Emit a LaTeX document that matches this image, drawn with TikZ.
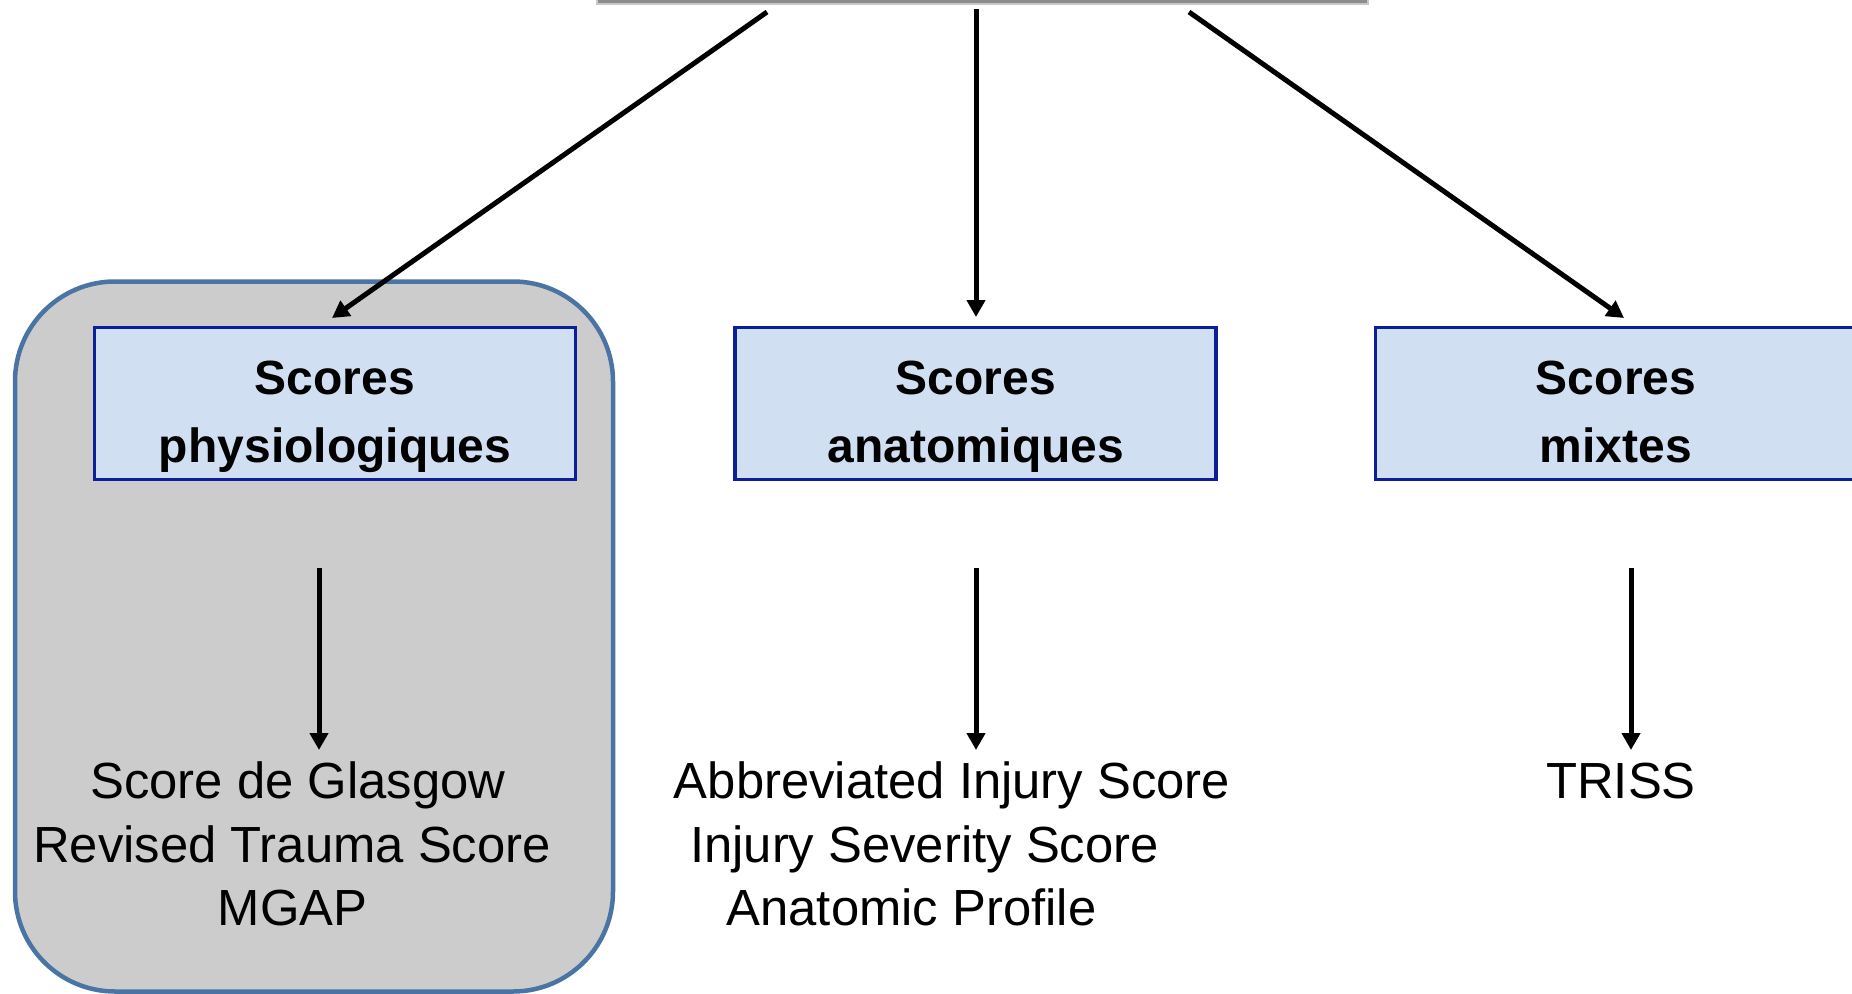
\documentclass[tikz,border=0pt]{standalone}
\usepackage{fontspec}
\setmainfont{Liberation Sans}
\usetikzlibrary{arrows.meta}

\definecolor{panelgray}{RGB}{204,204,204}
\definecolor{paneledge}{RGB}{74,116,163}
\definecolor{boxfill}{RGB}{208,224,242}
\definecolor{boxedge}{RGB}{14,30,150}
\definecolor{bargray}{RGB}{140,140,140}
\definecolor{barlight}{RGB}{200,200,200}

\begin{document}
\begin{tikzpicture}[x=1pt,y=-1pt,
  arr/.style={line width=5pt, -{Triangle[width=18pt,length=17pt]}},
  catbox/.style={draw=boxedge, fill=boxfill, line width=3.5pt, inner sep=0pt,
    minimum width=481pt, minimum height=152pt},
  cattext/.style={anchor=base, inner sep=0pt, font=\bfseries\fontsize{48}{58}\selectfont},
  itemtext/.style={anchor=base, inner sep=0pt, font=\fontsize{50.8}{60}\selectfont},
  grouppanel/.style={draw=paneledge, fill=panelgray, line width=4.5pt, inner sep=0pt,
    rounded corners=100pt, minimum width=598pt, minimum height=710pt},
  topbar/.style={draw=barlight, fill=bargray, line width=2pt, inner sep=0pt,
    minimum width=771pt, minimum height=6pt}
]
\useasboundingbox (0,0) rectangle (1852,993);

% bottom edge of the parent box
\node[topbar] (top) at (982.5,1) {};

% highlighted group behind the physiological scores
\node[grouppanel] (grp) at (314,636.5) {};

% category boxes
\node[catbox] (phys) at (334.8,403.3) {};
\node[cattext] (physA) at (335,394) {Scores};
\node[cattext] (physB) at (335,462) {physiologiques};

\node[catbox] (anat) at (975.6,403.3) {};
\node[cattext] (anatA) at (976,394) {Scores};
\node[cattext] (anatB) at (976,462) {anatomiques};

\node[catbox] (mix) at (1616,403.3) {};
\node[cattext] (mixA) at (1616,394) {Scores};
\node[cattext] (mixB) at (1616,462) {mixtes};

% lists of scores
\node[itemtext] (g1) at (298,798) {Score de Glasgow};
\node[itemtext] (g2) at (292,862) {Revised Trauma Score};
\node[itemtext] (g3) at (292.5,925) {MGAP};

\node[itemtext] (m1) at (952,798) {Abbreviated Injury Score};
\node[itemtext] (m2) at (924.5,862) {Injury Severity Score};
\node[itemtext] (m3) at (911.5,925) {Anatomic Profile};

\node[itemtext] (r1) at (1621,798) {TRISS};

% arrow end points
\coordinate (s1) at (767,12);
\coordinate (s2) at (976,9);
\coordinate (s3) at (1189,12);
\coordinate (t1) at (332,318);
\coordinate (t2) at (976,317);
\coordinate (t3) at (1624,318);

\coordinate (u1) at (319,568);
\coordinate (v1) at (319,750);
\coordinate (u2) at (976,568);
\coordinate (v2) at (976,750);
\coordinate (u3) at (1631,568);
\coordinate (v3) at (1631,750);

% connectors
\draw[arr] (s1) -- (t1);
\draw[arr] (s2) -- (t2);
\draw[arr] (s3) -- (t3);

\draw[arr] (u1) -- (v1);
\draw[arr] (u2) -- (v2);
\draw[arr] (u3) -- (v3);
\end{tikzpicture}
\end{document}
